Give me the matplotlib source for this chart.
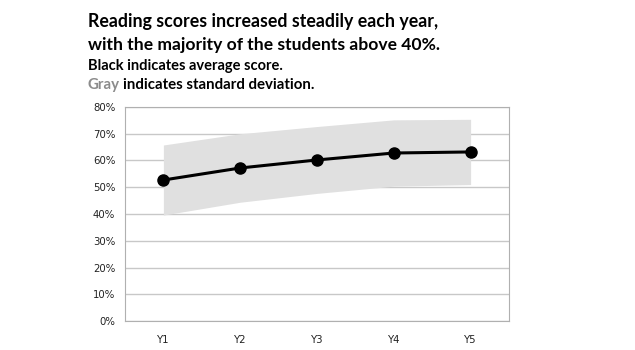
import matplotlib
matplotlib.use('Agg')
import numpy as np
import matplotlib.pyplot as plt

years = ['Y1', 'Y2', 'Y3', 'Y4', 'Y5']
avg_score = [52.7, 57.2, 60.2, 62.8, 63.2]
std_dev = [13.1, 12.8, 12.5, 12.4, 12.2]
yticks = [0, 10, 20, 30, 40, 50, 60, 70, 80]

fig = plt.figure(figsize=(6.35, 3.5), dpi=100)
ax = fig.add_axes([125/635, 1 - 321/350, 384/635, 214/350])

x = np.arange(len(years))
avg = np.array(avg_score)
sd = np.array(std_dev)

# shaded band for +/- one standard deviation
ax.fill_between(x, avg - sd, avg + sd, color='#e0e0e0', lw=0, zorder=1)
ax.plot(x, avg, color='black', lw=2.2, marker='o', ms=8, zorder=3)

ax.set_xlim(-0.5, 4.5)
ax.set_ylim(0, 80)
ax.set_yticks(yticks)
ax.set_yticklabels(['%d%%' % v for v in yticks], fontsize=7.3, family='DejaVu Sans', color='#222222')
ax.set_xticks(x)
ax.set_xticklabels(years, fontsize=7.3, family='DejaVu Sans', color='#222222')
ax.tick_params(length=0, pad=7)
ax.tick_params(axis='x', pad=10)
ax.grid(axis='y', color='#c8c8c8', lw=1, zorder=0)
ax.set_axisbelow(True)
for sp in ax.spines.values():
    sp.set_color('#b0b0b0')

fig.text(88/635, 1 - 21/350, 'Reading scores increased steadily each year,',
         fontsize=12.8, fontweight='bold', family='Lato', va='center')
fig.text(88/635, 1 - 45/350, 'with the majority of the students above 40%.',
         fontsize=12.6, fontweight='bold', family='Lato', va='center')
fig.text(88/635, 1 - 66/350, 'Black indicates average score.',
         fontsize=10.5, fontweight='bold', family='Lato', va='center')
t = fig.text(88/635, 1 - 85/350, 'Gray', color='#8c8c8c',
             fontsize=10.8, fontweight='bold', family='Lato', va='center')
fig.canvas.draw()
bb = t.get_window_extent()
fig.text(bb.x1 / fig.bbox.width + 0.005, 1 - 85/350, 'indicates standard deviation.',
         fontsize=10.8, fontweight='bold', family='Lato', va='center')

fig.savefig('out.png', dpi=100)
